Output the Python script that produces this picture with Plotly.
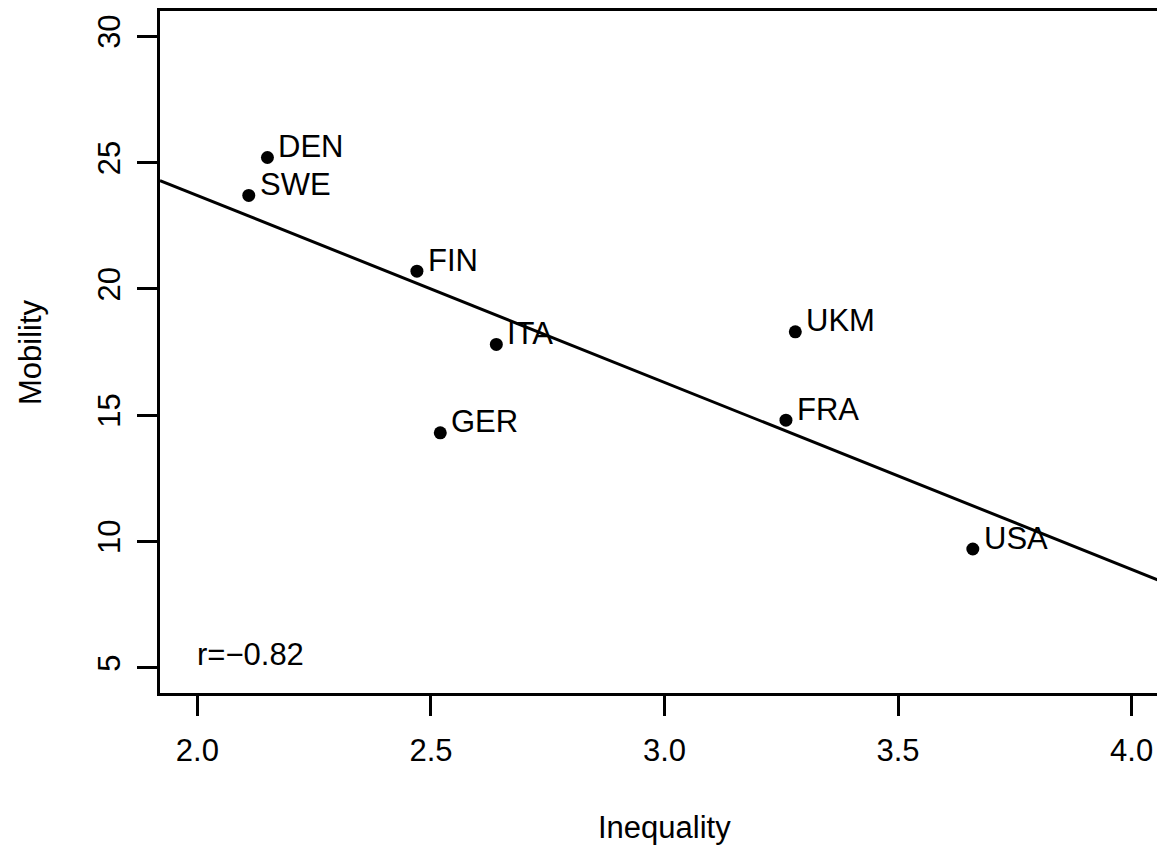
import numpy as np
import plotly.graph_objects as go

countries = ["DEN", "SWE", "FIN", "ITA", "GER", "UKM", "FRA", "USA"]
inequality = [2.15, 2.11, 2.47, 2.64, 2.52, 3.28, 3.26, 3.66]
mobility = [25.2, 23.7, 20.7, 17.8, 14.3, 18.3, 14.8, 9.7]
x_ticks = [2.0, 2.5, 3.0, 3.5, 4.0]
y_ticks = [5, 10, 15, 20, 25, 30]
xlim = [1.92, 4.08]
ylim = [4.0, 31.0]

# page body has an 8px margin; compensate so the plot lands where the reference has it
OFF = 8
W, H = 1165 - OFF, 848 - OFF
L, T = 160 - OFF, 9 - OFF
PLOT_H = 684
B = H - T - PLOT_H
plot_w_full = 1009  # R plot region width (extends slightly past window)
x_right = xlim[0] + (W - L) * (xlim[1] - xlim[0]) / plot_w_full

FONT = "Liberation Sans, Arial, sans-serif"
FS = 31

slope, intercept = np.polyfit(inequality, mobility, 1)
r = np.corrcoef(inequality, mobility)[0, 1]
line_x = np.array(xlim)
line_y = intercept + slope * line_x

fig = go.Figure()
fig.add_trace(go.Scatter(x=line_x, y=line_y, mode="lines",
                         line=dict(color="black", width=3), showlegend=False,
                         hoverinfo="skip"))
fig.add_trace(go.Scatter(x=inequality, y=mobility, mode="markers",
                         marker=dict(color="black", size=13), showlegend=False,
                         text=countries))

annotations = []
for c, xv, yv in zip(countries, inequality, mobility):
    annotations.append(dict(x=xv, y=yv, xref="x", yref="y", text=c,
                            showarrow=False, xanchor="left", yanchor="middle",
                            xshift=9, yshift=11,
                            font=dict(family=FONT, size=FS, color="black")))
annotations.append(dict(x=2.0, y=5, xref="x", yref="y",
                        text="r=" + ("%.2f" % r).replace("-", "\u2212"),
                        showarrow=False, xanchor="left", yanchor="bottom",
                        xshift=-2, yshift=-6,
                        font=dict(family=FONT, size=FS, color="black")))
annotations.append(dict(x=0.5 * plot_w_full / (W - L),
                        y=-(828 - 693) / PLOT_H, xref="paper", yref="paper",
                        text="Inequality", showarrow=False,
                        xanchor="center", yanchor="middle",
                        font=dict(family=FONT, size=FS, color="black")))
annotations.append(dict(x=(30 - 160) / (W - L), y=0.5, xref="paper", yref="paper",
                        text="Mobility", showarrow=False, textangle=-90,
                        xanchor="center", yanchor="middle",
                        font=dict(family=FONT, size=FS, color="black")))

fig.update_layout(
    width=W, height=H,
    margin=dict(l=L, r=0, t=T, b=B, pad=0),
    paper_bgcolor="white", plot_bgcolor="white",
    font=dict(family=FONT, size=FS, color="black"),
    annotations=annotations,
    xaxis=dict(range=[xlim[0], x_right], tickvals=x_ticks,
               ticktext=["%.1f" % v for v in x_ticks],
               showgrid=False, zeroline=False,
               showline=True, linecolor="black", linewidth=3, mirror=True,
               ticks="outside", ticklen=20, tickwidth=3, tickcolor="black",
               ticklabelstandoff=8,
               tickfont=dict(family=FONT, size=FS, color="black")),
    yaxis=dict(range=ylim, tickvals=y_ticks,
               ticktext=[str(v) for v in y_ticks],
               showgrid=False, zeroline=False,
               showline=True, linecolor="black", linewidth=3, mirror=False,
               ticks="outside", ticklen=20, tickwidth=3, tickcolor="black",
               tickangle=-90, ticklabelstandoff=5,
               tickfont=dict(family=FONT, size=FS, color="black")),
)

fig.write_html("out.html")
